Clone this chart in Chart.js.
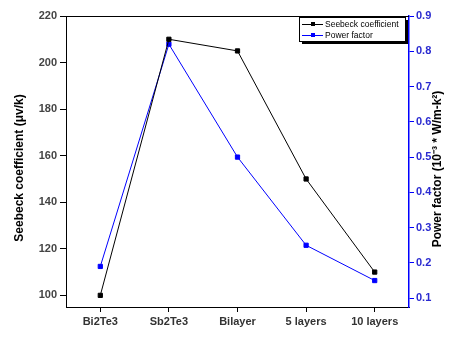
<!DOCTYPE html>
<html>
<head>
<meta charset="utf-8">
<script src="https://cdn.jsdelivr.net/npm/chart.js@4"></script>
<style>
  body { margin: 0; background: #fff; }
  #wrap { width: 454px; height: 340px; }
</style>
</head>
<body>
<div id="wrap"><canvas id="grafico" width="454" height="340"></canvas></div>
<script>
// datos
const categorias = ['Bi2Te3', 'Sb2Te3', 'Bilayer', '5 layers', '10 layers'];
const seebeck = [100, 210, 205, 150, 110];
const factorPotencia = [0.19, 0.82, 0.50, 0.25, 0.15];
const ticksSeebeck = [100, 120, 140, 160, 180, 200, 220];
const ticksFactor = [0.1, 0.2, 0.3, 0.4, 0.5, 0.6, 0.7, 0.8, 0.9];

const fuenteTicks = { family: 'Liberation Sans, Arial, sans-serif', size: 11, weight: 'bold' };

// leyenda con sombra y titulos de ejes
const extras = {
  id: 'extras',
  afterDraw(chart) {
    const c = chart.ctx;
    const area = chart.chartArea;
    c.save();
    // borde superior
    c.strokeStyle = '#000';
    c.lineWidth = 1;
    c.beginPath();
    c.moveTo(area.left, area.top + 0.5);
    c.lineTo(area.right, area.top + 0.5);
    c.stroke();

    // titulos
    c.font = 'bold 12px Liberation Sans, Arial, sans-serif';
    c.textAlign = 'center';
    c.textBaseline = 'middle';
    c.fillStyle = '#000';
    c.translate(20, 168);
    c.rotate(-Math.PI / 2);
    c.fillText('Seebeck coefficient (\u03bcv/k)', 0, 0);
    c.setTransform(1, 0, 0, 1, 0, 0);
    c.translate(438, 169);
    c.rotate(-Math.PI / 2);
    c.fillText('Power factor (10\u207B\u00B3 * W/m-k\u00B2)', 0, 0);
    c.setTransform(1, 0, 0, 1, 0, 0);

    // leyenda
    const x0 = 299, y0 = 17, w = 106, h = 24;
    c.fillStyle = '#000';
    c.fillRect(x0 + 3, y0 + 3, w, h);
    c.fillStyle = '#fff';
    c.fillRect(x0, y0, w, h);
    c.strokeStyle = '#000';
    c.strokeRect(x0 + 0.5, y0 + 0.5, w, h);
    c.font = '8.5px Liberation Sans, Arial, sans-serif';
    c.textAlign = 'left';
    chart.data.datasets.forEach((ds, i) => {
      const y = y0 + 7 + i * 11;
      c.strokeStyle = ds.borderColor;
      c.beginPath();
      c.moveTo(x0 + 3, y + 0.5);
      c.lineTo(x0 + 24, y + 0.5);
      c.stroke();
      c.fillStyle = ds.borderColor;
      c.fillRect(x0 + 12, y - 2, 4, 4);
      c.fillStyle = '#000';
      c.fillText(ds.label, x0 + 26, y + 1);
    });
    c.restore();
  }
};

new Chart(document.getElementById('grafico').getContext('2d'), {
  type: 'line',
  data: {
    labels: categorias,
    datasets: [
      {
        label: 'Seebeck coefficient',
        data: seebeck,
        yAxisID: 'y',
        borderColor: '#000000',
        backgroundColor: '#000000',
        borderWidth: 1,
        pointStyle: 'rect',
        pointRadius: 3,
        tension: 0
      },
      {
        label: 'Power factor',
        data: factorPotencia,
        yAxisID: 'y1',
        borderColor: '#0000ff',
        backgroundColor: '#0000ff',
        borderWidth: 1,
        pointStyle: 'rect',
        pointRadius: 3,
        tension: 0
      }
    ]
  },
  options: {
    responsive: false,
    animation: false,
    layout: { padding: { top: 16, left: 0, right: 0, bottom: 0 } },
    plugins: { legend: { display: false }, tooltip: { enabled: false } },
    scales: {
      x: {
        offset: true,
        afterFit(s) { s.height = 33; },
        grid: { drawOnChartArea: false, offset: false, tickLength: 5, color: '#000' },
        border: { color: '#000', width: 1 },
        ticks: { color: '#333', font: fuenteTicks, padding: 3, maxRotation: 0 }
      },
      y: {
        position: 'left',
        min: 95,
        max: 220,
        afterFit(s) { s.width = 66; },
        afterBuildTicks(s) { s.ticks = ticksSeebeck.map(v => ({ value: v })); },
        grid: { drawOnChartArea: false, tickLength: 6, color: '#000' },
        border: { color: '#000', width: 1 },
        ticks: { color: '#444', font: fuenteTicks, padding: 3 }
      },
      y1: {
        position: 'right',
        min: 0.075,
        max: 0.9,
        afterFit(s) { s.width = 45; },
        afterBuildTicks(s) { s.ticks = ticksFactor.map(v => ({ value: v })); },
        grid: { drawOnChartArea: false, tickLength: 5, color: '#0000ff' },
        border: { color: '#0000ff', width: 1.5 },
        ticks: {
          color: '#2a2ad0',
          font: fuenteTicks,
          padding: 2,
          callback: v => v.toFixed(1)
        }
      }
    }
  },
  plugins: [extras]
});
</script>
</body>
</html>
